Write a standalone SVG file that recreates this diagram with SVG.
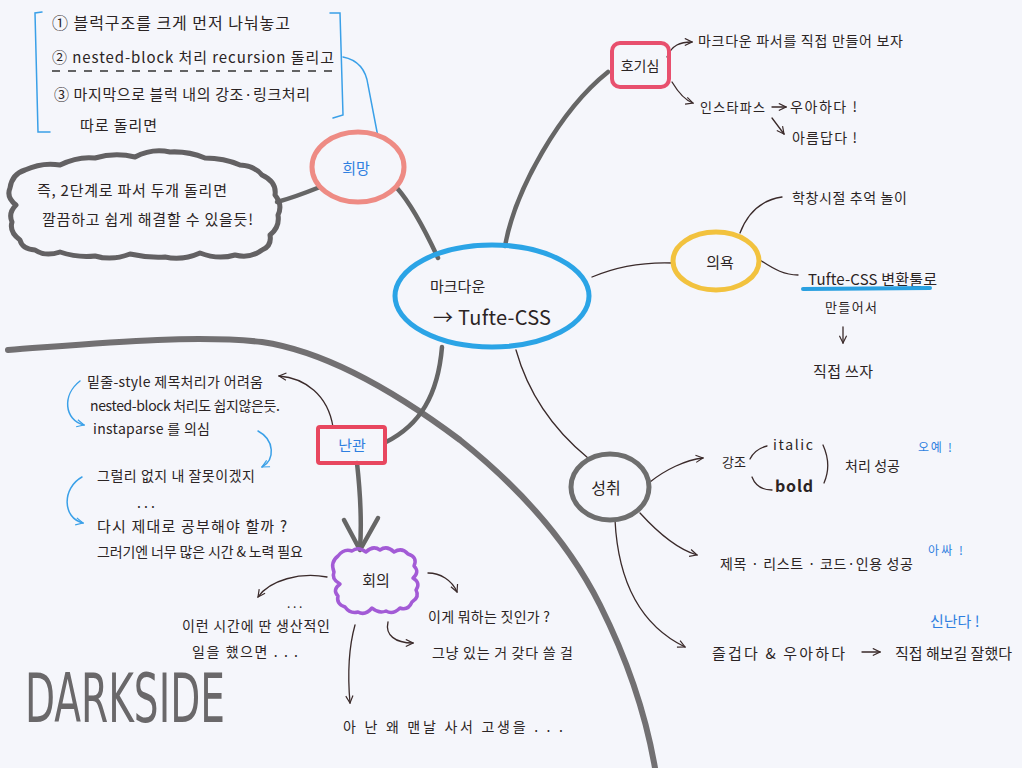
<svg xmlns="http://www.w3.org/2000/svg" width="1022" height="768" viewBox="0 0 1022 768">
<style>
.t{font-family:"Noto Sans CJK KR","Noto Sans",sans-serif;fill:#2b2424}
.b{fill:#2f7fe0}
.c{text-anchor:middle}
.thin{fill:none;stroke:#3a2a2a;stroke-width:1.3;stroke-linecap:round}
.thick{fill:none;stroke:#666;stroke-width:4.5;stroke-linecap:round}
.blue{fill:none;stroke:#3aa0e8;stroke-width:1.5;stroke-linecap:round}
</style>
<defs>
<marker id="ah" viewBox="0 0 10 10" refX="9" refY="5" markerWidth="9" markerHeight="9" markerUnits="userSpaceOnUse" orient="auto"><path d="M1,1 L9,5 L1,9" fill="none" stroke="#3a2a2a" stroke-width="1.3"/></marker>
<marker id="ahb" viewBox="0 0 10 10" refX="9" refY="5" markerWidth="9" markerHeight="9" markerUnits="userSpaceOnUse" orient="auto"><path d="M1,1 L9,5 L1,9" fill="none" stroke="#3aa0e8" stroke-width="1.3"/></marker>
</defs>
<rect width="1022" height="768" fill="#f5f6fb"/>

<g id="darkside-line">
<path d="M8,350 C90,344 190,334 262,342 C330,352 400,395 460,440 C520,488 570,545 600,605 C625,655 645,710 655,768" fill="none" stroke="#727072" stroke-width="6" stroke-linecap="round"/>
</g>

<g id="connectors">
<path class="thick" d="M397,188 C412,205 425,230 438,258"/>
<path class="thick" d="M277,202 C292,198 305,193 320,187"/>
<path class="thick" d="M505,246 C515,190 560,110 608,72"/>
<path class="thin" d="M592,277 C620,265 650,262 674,263"/>
<path class="thick" d="M442,347 C438,395 420,425 386,442"/>
<path class="thin" d="M516,350 C530,400 560,435 588,458"/>
<path class="blue" d="M343,57 C358,60 366,70 368,85 L378,137"/>
<path class="thin" d="M667,57 C672,45 680,42 692,42" marker-end="url(#ah)"/>
<path class="thin" d="M672,82 C678,92 684,100 693,103" marker-end="url(#ah)"/>
<path class="thin" d="M772,107 L786,107" marker-end="url(#ah)"/>
<path class="thin" d="M772,118 L784,134" marker-end="url(#ah)"/>
<path class="thin" d="M740,233 C748,212 762,200 782,197"/>
<path class="thin" d="M760,260 C775,270 785,275 798,275"/>
<path class="thin" d="M843,327 L843,343" marker-end="url(#ah)"/>
<path class="thin" d="M650,482 C665,470 685,460 703,458" marker-end="url(#ah)"/>
<path class="thin" d="M640,513 C660,535 680,550 697,555" marker-end="url(#ah)"/>
<path class="thin" d="M615,520 C618,580 640,625 685,647" marker-end="url(#ah)"/>
<path class="thin" d="M862,652 L880,652" marker-end="url(#ah)"/>
<path class="thin" d="M333,427 C328,395 305,378 279,376" marker-end="url(#ah)"/>
<path class="blue" d="M80,381 C62,395 64,420 84,425" marker-end="url(#ahb)"/>
<path class="blue" d="M258,431 C275,440 275,460 262,467" marker-end="url(#ahb)"/>
<path class="blue" d="M82,477 C62,488 62,518 83,523" marker-end="url(#ahb)"/>
<path class="thick" d="M357,463 C360,490 362,520 360,549"/>
<path class="thick" d="M344,520 L360,550 L378,518" stroke-linejoin="round"/>
<path class="thin" d="M327,577 C300,572 270,580 258,597" marker-end="url(#ah)"/>
<path class="thin" d="M428,573 C440,573 452,580 457,592" marker-end="url(#ah)"/>
<path class="thin" d="M388,622 C385,635 395,643 413,643" marker-end="url(#ah)"/>
<path class="thin" d="M355,625 C348,650 348,680 350,703" marker-end="url(#ah)"/>
</g>

<g id="plan-box">
<path class="blue" d="M42,12 L35,13 L38,132 L50,132"/>
<path class="blue" d="M330,13 L340,13 L343,115 L333,118"/>
<text class="t" x="52" y="29" font-size="16" textLength="238">① 블럭구조를 크게 먼저 나눠놓고</text>
<text class="t" x="52" y="63" font-size="15" textLength="282">② nested-block 처리 recursion 돌리고</text>
<path d="M52,71 L335,71" stroke="#333" stroke-width="1.3" stroke-dasharray="8,8" fill="none"/>
<text class="t" x="54" y="100" font-size="15" textLength="256">③ 마지막으로 블럭 내의 강조·링크처리</text>
<text class="t" x="80" y="131" font-size="15" textLength="77">따로 돌리면</text>
</g>

<g id="cloud-note">
<path d="M25,170 Q42,162 60,165 Q78,156 95,158 Q115,152 135,157 Q152,148 170,152 Q188,151 205,158 Q224,158 240,165 Q255,166 262,175 Q277,182 275,195 Q283,205 278,215 Q280,227 270,235 Q272,246 262,250 Q250,259 235,255 Q218,260 200,253 Q182,261 165,257 Q148,258 130,254 Q112,261 95,256 Q78,258 60,252 Q45,257 35,250 Q22,249 20,240 Q9,232 12,222 Q8,213 16,205 Q6,197 10,188 Q12,174 25,170 Z" fill="none" stroke="#636163" stroke-width="5" stroke-linejoin="round"/>
<text class="t" x="37" y="196" font-size="15" textLength="190">즉, 2단계로 파서 두개 돌리면</text>
<text class="t" x="42" y="225" font-size="15" textLength="211">깔끔하고 쉽게 해결할 수 있을듯!</text>
</g>

<g id="node-hope">
<ellipse cx="358" cy="167" rx="46" ry="35" fill="none" stroke="#ee8b84" stroke-width="5"/>
<text class="t b c" x="356" y="174" font-size="15">희망</text>
</g>

<g id="node-center">
<ellipse cx="492" cy="296" rx="97" ry="51" fill="none" stroke="#2ba4e6" stroke-width="5"/>
<text class="t" x="430" y="292" font-size="15">마크다운</text>
<text class="t" x="433" y="325" font-size="20" textLength="118">→ Tufte-CSS</text>
</g>

<g id="node-curiosity">
<rect x="612" y="43" width="57" height="44" rx="8" fill="none" stroke="#e8506e" stroke-width="4"/>
<text class="t c" x="640" y="71" font-size="14">호기심</text>
<text class="t" x="698" y="46" font-size="14" textLength="205">마크다운 파서를 직접 만들어 보자</text>
<text class="t" x="700" y="112" font-size="13" textLength="65">인스타파스</text>
<text class="t" x="790" y="112" font-size="14" textLength="67">우아하다 !</text>
<text class="t" x="792" y="143" font-size="14" textLength="65">아름답다 !</text>
</g>

<g id="node-will">
<ellipse cx="716" cy="261" rx="43" ry="29" fill="none" stroke="#f2c23e" stroke-width="5"/>
<text class="t c" x="720" y="268" font-size="15">의욕</text>
<text class="t" x="792" y="203" font-size="14" textLength="115">학창시절 추억 놀이</text>
<text class="t" x="808" y="285" font-size="15" textLength="129">Tufte-CSS 변환툴로</text>
<path d="M803,289 L930,288" stroke="#2aa0e0" stroke-width="4" stroke-linecap="round"/>
<text class="t" x="825" y="312" font-size="13" textLength="52">만들어서</text>
<text class="t" x="813" y="377" font-size="15" textLength="60">직접 쓰자</text>
</g>

<g id="node-achieve">
<ellipse cx="610" cy="487" rx="39" ry="33" fill="none" stroke="#6e6e6e" stroke-width="5"/>
<text class="t c" x="606" y="494" font-size="16">성취</text>
<text class="t" x="722" y="467" font-size="13">강조</text>
<path class="thin" d="M750,459 Q755,449 767,446 M752,477 Q757,490 772,490 M823,445 Q832,465 824,483"/>
<text class="t" x="773" y="450" font-size="14" textLength="40">italic</text>
<text class="t" x="775" y="492" font-size="16" font-weight="bold" textLength="38">bold</text>
<text class="t" x="845" y="471" font-size="14" textLength="55">처리 성공</text>
<text class="t b" x="918" y="452" font-size="12" textLength="34">오예 !</text>
<text class="t" x="720" y="569" font-size="14" textLength="193">제목 · 리스트 · 코드·인용 성공</text>
<text class="t b" x="928" y="555" font-size="12" textLength="35">아싸 !</text>
<text class="t" x="712" y="659" font-size="15" textLength="133">즐겁다 &amp; 우아하다</text>
<text class="t" x="895" y="659" font-size="15" textLength="117">직접 해보길 잘했다</text>
<text class="t b" x="930" y="627" font-size="15">신난다 !</text>
</g>

<g id="node-obstacle">
<rect x="318" y="427" width="67" height="36" rx="2" fill="none" stroke="#e8475f" stroke-width="4"/>
<text class="t b c" x="352" y="451" font-size="15">난관</text>
<text class="t" x="87" y="387" font-size="14" textLength="176">밑줄-style 제목처리가 어려움</text>
<text class="t" x="90" y="411" font-size="14" textLength="190">nested-block 처리도 쉽지않은듯.</text>
<text class="t" x="93" y="434" font-size="14" textLength="117">instaparse 를 의심</text>
<text class="t" x="97" y="481" font-size="14" textLength="158">그럴리 없지 내 잘못이겠지</text>
<text class="t" x="137" y="508" font-size="14">. . .</text>
<text class="t" x="97" y="532" font-size="15" textLength="190">다시 제대로 공부해야 할까 ?</text>
<text class="t" x="97" y="557" font-size="14" textLength="206">그러기엔 너무 많은 시간 &amp; 노력 필요</text>
</g>

<g id="node-doubt">
<path d="M338,556 Q344,548 352,551 Q358,546 366,552 Q373,545 380,550 Q387,545 394,552 Q402,547 408,554 Q418,557 414,566 Q420,572 413,578 Q421,583 416,590 Q420,597 412,602 Q408,611 400,608 Q393,615 386,611 Q379,614 372,608 Q365,616 358,612 Q350,614 345,607 Q336,604 338,596 Q332,590 340,584 Q331,579 334,572 Q330,562 338,556 Z" fill="none" stroke="#a35bd6" stroke-width="3.5" stroke-linejoin="round"/>
<text class="t c" x="376" y="586" font-size="15">회의</text>
<text class="t" x="287" y="608" font-size="12">. . .</text>
<text class="t" x="182" y="631" font-size="14" textLength="148">이런 시간에 딴 생산적인</text>
<text class="t" x="192" y="657" font-size="14" textLength="106">일을 했으면 . . .</text>
<text class="t" x="428" y="622" font-size="14" textLength="122">이게 뭐하는 짓인가 ?</text>
<text class="t" x="432" y="658" font-size="14" textLength="141">그냥 있는 거 갖다 쓸 걸</text>
<text class="t" x="343" y="732" font-size="14" textLength="220">아 난 왜 맨날 사서 고생을 . . .</text>
</g>

<g id="darkside-label">
<text x="25" y="722" font-family="'DejaVu Sans Condensed','Liberation Sans',sans-serif" font-size="68" fill="#6a686a" textLength="200" lengthAdjust="spacingAndGlyphs">DARKSIDE</text>
</g>
</svg>
